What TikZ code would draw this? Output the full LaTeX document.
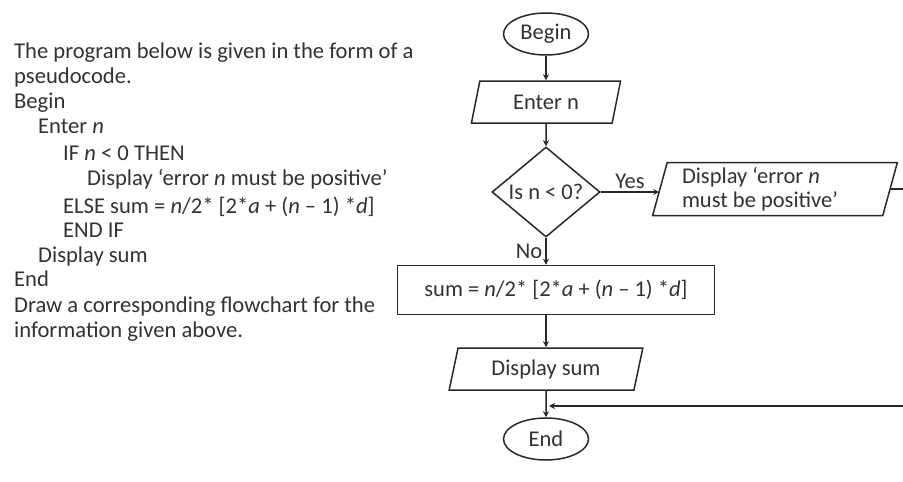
\documentclass[tikz,border=0pt]{standalone}
\usepackage{fontspec}
\setmainfont{Carlito}
\usetikzlibrary{shapes.geometric,arrows.meta,positioning}
\definecolor{flowink}{RGB}{40,40,40}
\definecolor{slidetext}{RGB}{50,50,50}

\begin{document}
\begin{tikzpicture}[x=1pt,y=-1pt,
  every node/.style={font=\fontsize{22.5}{24}\selectfont,inner sep=0pt,text=slidetext},
  flowline/.style={flowink,line width=1.5pt},
  flowarrow/.style={flowline,-{Stealth[length=6pt,width=6pt]}},
  terminal/.style={draw=flowink,line width=1.5pt,ellipse,minimum width=85pt,minimum height=42pt},
  iobox/.style={draw=flowink,line width=1.5pt,trapezium,trapezium left angle=74,
    trapezium right angle=106,trapezium stretches=true},
  procbox/.style={draw=flowink,line width=1.5pt,rectangle},
  decision/.style={draw=flowink,line width=1.5pt,diamond,aspect=1.2,
    minimum width=108pt,minimum height=90pt},
  pseudo/.style={anchor=base west,font=\fontsize{22.6}{25.5}\selectfont}]
\useasboundingbox (0,0) rectangle (903,482);
\node[pseudo] (intro1) at (14,58) {The program below is given in the form of a};
\node[pseudo] (intro2) at (14,83) {pseudocode.};
\node[pseudo] (code1) at (14,108) {Begin};
\node[pseudo] (code2) at (38,133) {Enter \textit{n}};
\node[pseudo] (code3) at (63,160) {IF \textit{n} < 0 THEN};
\node[pseudo] (code4) at (87,185) {Display `error \textit{n} must be positive'};
\node[pseudo] (code5) at (63,213) {ELSE sum = \textit{n}/2* [2*\textit{a} + (\textit{n} – 1) *\textit{d}]};
\node[pseudo] (code6) at (63,237) {END IF};
\node[pseudo] (code7) at (38,262) {Display sum};
\node[pseudo] (code8) at (14,286) {End};
\node[pseudo] (task1) at (14,312) {Draw a corresponding flowchart for the};
\node[pseudo] (task2) at (14,337) {information given above.};
\node[terminal] (begin) at (546,34) {Begin};
\node[iobox,minimum width=150pt,minimum height=42pt] (enter) at (546,102) {Enter n};
\node[decision] (test) at (546,192) {Is n < 0?};
\node[iobox,minimum width=245pt,minimum height=53pt,text width=186pt,align=flush left] (err) at (775,189)
  {Display `error \textit{n}\\must be positive'};
\node[procbox,minimum width=317pt,minimum height=49pt] (calc) at (556,290)
  {sum = \textit{n}/2* [2*\textit{a} + (\textit{n} – 1) *\textit{d}]};
\node[iobox,minimum width=194pt,minimum height=42pt] (show) at (546,369) {Display sum};
\node[terminal] (end) at (546,439) {End};
\coordinate (back) at (549,406);
\draw[flowarrow] (begin) -- (enter);
\draw[flowarrow] (enter) -- (test);
\draw[flowarrow] (test.east) -- node[above=3pt] {Yes} (test.east -| err.west);
\draw[flowarrow] (test.south) -- node[left=3pt] {No} (test.south |- calc.north);
\draw[flowarrow] (calc.south -| show.north) -- (show.north);
\draw[flowarrow] (show) -- (end);
\draw[flowarrow] (err.east) -- ++(40,0) |- (back);
\end{tikzpicture}
\end{document}
